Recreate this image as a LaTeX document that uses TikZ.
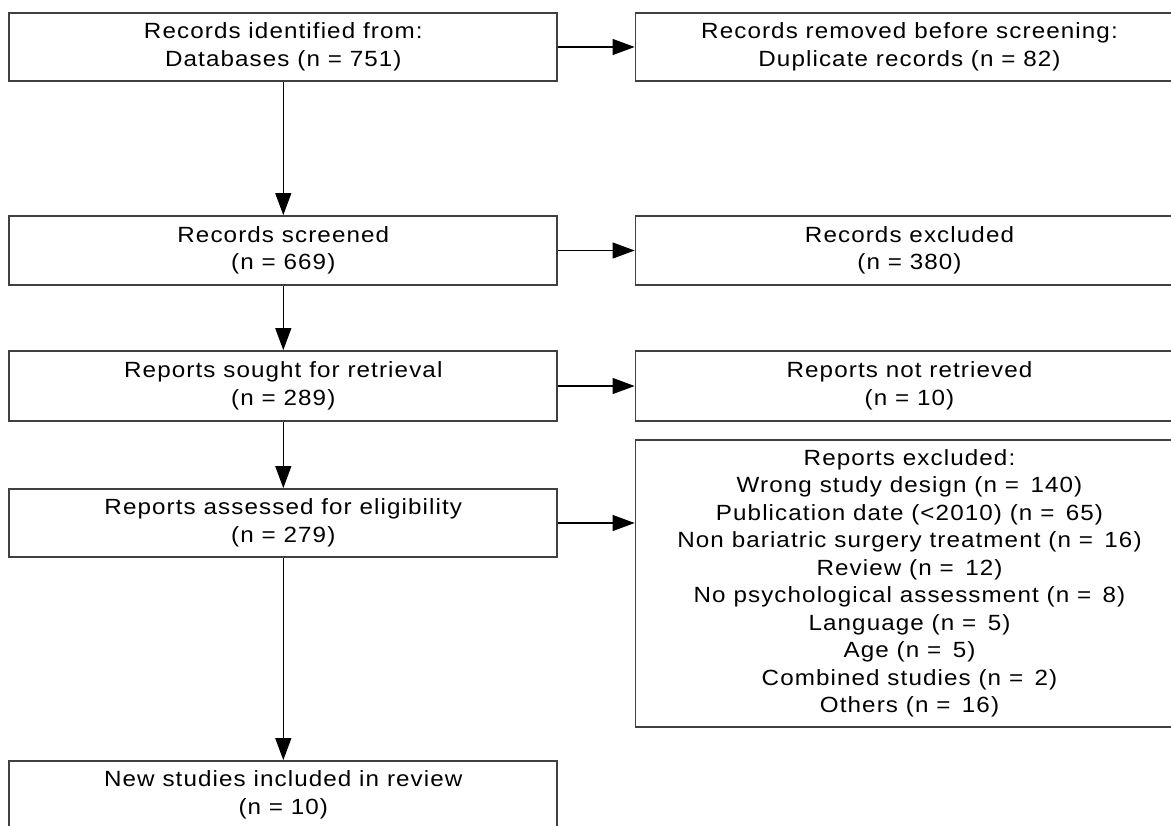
\documentclass[tikz,border=0pt]{standalone}
\usepackage{fontspec}
\setmainfont{Liberation Sans}[LetterSpace=5, FakeStretch=1.1]
\usetikzlibrary{arrows.meta}

\begin{document}
\begin{tikzpicture}[x=0.5pt, y=-0.5pt,
    box/.style={draw=black!75, line width=0.9pt, minimum width=274pt,
      inner sep=0pt, align=center, font=\fontsize{11}{13.75}\selectfont},
    link/.style={-{Triangle[length=11pt,width=8pt]}, line width=0.6pt}]
    \useasboundingbox (0,0) rectangle (1171,825);
    \node [box, minimum height=33.8pt] (1) at (283.3,47)
      {Records identified from:\\Databases (n = 751)};
    \node [box, minimum height=33.8pt] (2) at (909.5,47)
      {Records removed before screening:\\Duplicate records (n = 82)};
    \node [box, minimum height=34.5pt] (3) at (283.3,250.5)
      {Records screened\\(n = 669)};
    \node [box, minimum height=34.5pt] (4) at (909.5,250.5)
      {Records excluded\\(n = 380)};
    \node [box, minimum height=35pt] (5) at (283.3,386)
      {Reports sought for retrieval\\(n = 289)};
    \node [box, minimum height=35pt] (6) at (909.5,386)
      {Reports not retrieved\\(n = 10)};
    \node [box, minimum height=34pt] (7) at (283.3,523)
      {Reports assessed for eligibility\\(n = 279)};
    \node [box, minimum height=143.5pt] (8) at (909.5,583.5)
      {Reports excluded:\\Wrong study design (n = \,140)\\
       Publication date (<2010) (n = \,65)\\
       Non bariatric surgery treatment (n = \,16)\\Review (n = \,12)\\
       No psychological assessment (n = \,8)\\Language (n = \,5)\\
       Age (n = \,5)\\Combined studies (n = \,2)\\Others (n = \,16)};
    \node [box, minimum height=34pt] (9) at (283.3,795)
      {New studies included in review\\(n = 10)};
    \draw [link] (1) -- (2);
    \draw [link] (1) -- (3);
    \draw [link] (3) -- (4);
    \draw [link] (3) -- (5);
    \draw [link] (5) -- (6);
    \draw [link] (5) -- (7);
    \draw [link] (7) -- (7 -| 8.west);
    \draw [link] (7) -- (9);
\end{tikzpicture}
\end{document}
